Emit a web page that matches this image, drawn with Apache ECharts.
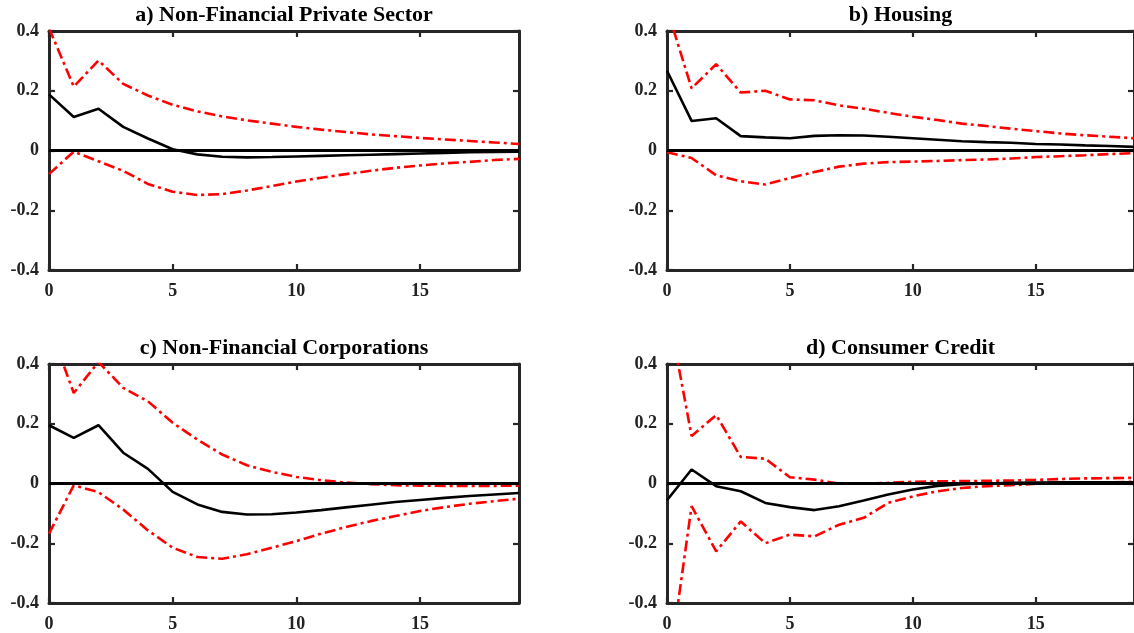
<!DOCTYPE html>
<html>
<head>
<meta charset="utf-8">
<style>html,body{margin:0;padding:0;background:#fff;}#chart{width:1134px;height:633px;}</style>
<script src="https://cdn.jsdelivr.net/npm/echarts@6/dist/echarts.min.js"></script>
</head>
<body>
<div id="chart"></div>
<script>
const horizons = [0,1,2,3,4,5,6,7,8,9,10,11,12,13,14,15,16,17,18,19];
const xTicks = [0,5,10,15];
const yTicks = [-0.4,-0.2,0,0.2,0.4];
const titles = ['a) Non-Financial Private Sector','b) Housing','c) Non-Financial Corporations','d) Consumer Credit'];

// a) Non-Financial Private Sector
const aMedian = [0.188,0.112,0.140,0.079,0.040,0.004,-0.013,-0.021,-0.023,-0.022,-0.020,-0.018,-0.016,-0.014,-0.012,-0.010,-0.008,-0.006,-0.005,-0.004];
const aUpper  = [0.410,0.214,0.301,0.223,0.184,0.153,0.131,0.114,0.101,0.090,0.079,0.070,0.062,0.054,0.048,0.042,0.037,0.032,0.027,0.022];
const aLower  = [-0.079,-0.004,-0.036,-0.068,-0.112,-0.138,-0.149,-0.146,-0.134,-0.119,-0.104,-0.091,-0.079,-0.068,-0.058,-0.050,-0.043,-0.038,-0.032,-0.028];

// b) Housing
const bMedian = [0.267,0.099,0.108,0.048,0.044,0.041,0.049,0.051,0.050,0.046,0.041,0.036,0.031,0.028,0.026,0.022,0.020,0.017,0.015,0.012];
const bUpper  = [0.475,0.208,0.289,0.194,0.200,0.171,0.168,0.151,0.140,0.126,0.113,0.102,0.090,0.082,0.073,0.065,0.057,0.051,0.046,0.041];
const bLower  = [-0.006,-0.025,-0.083,-0.103,-0.114,-0.092,-0.072,-0.054,-0.044,-0.039,-0.037,-0.035,-0.032,-0.030,-0.027,-0.022,-0.019,-0.016,-0.012,-0.009];

// c) Non-Financial Corporations
const cMedian = [0.195,0.153,0.195,0.103,0.049,-0.028,-0.070,-0.095,-0.104,-0.103,-0.097,-0.089,-0.080,-0.071,-0.062,-0.055,-0.048,-0.042,-0.037,-0.032];
const cUpper  = [0.530,0.303,0.407,0.320,0.275,0.203,0.147,0.097,0.061,0.039,0.022,0.011,0.003,-0.002,-0.006,-0.007,-0.008,-0.008,-0.008,-0.007];
const cLower  = [-0.168,-0.006,-0.029,-0.087,-0.157,-0.215,-0.246,-0.252,-0.237,-0.215,-0.193,-0.168,-0.146,-0.126,-0.109,-0.092,-0.079,-0.068,-0.059,-0.051];

// d) Consumer Credit
const dMedian = [-0.056,0.047,-0.009,-0.026,-0.065,-0.079,-0.089,-0.076,-0.057,-0.037,-0.020,-0.008,-0.002,0.000,0.002,0.003,0.004,0.004,0.004,0.004];
const dUpper  = [0.600,0.159,0.229,0.089,0.083,0.021,0.013,-0.001,-0.001,0.002,0.006,0.007,0.008,0.009,0.010,0.012,0.015,0.017,0.018,0.019];
const dLower  = [-0.665,-0.076,-0.227,-0.127,-0.200,-0.171,-0.177,-0.138,-0.115,-0.065,-0.043,-0.026,-0.015,-0.009,-0.006,-0.001,0.001,0.003,0.004,0.006];

const panels = [
  {median:aMedian, upper:aUpper, lower:aLower},
  {median:bMedian, upper:bUpper, lower:bLower},
  {median:cMedian, upper:cUpper, lower:cLower},
  {median:dMedian, upper:dUpper, lower:dLower}
];

const grids = [
  {left:49, top:31, width:470, height:239},
  {left:667, top:31, width:467, height:239},
  {left:49, top:364, width:470, height:239},
  {left:667, top:364, width:467, height:239}
];

const AX = '#262626';
const FONT = '"Liberation Serif", "DejaVu Serif", serif';

function xAxisDef(i, pos, labels) {
  return {
    type:'value', gridIndex:i, position:pos, min:0, max:19,
    splitLine:{show:false},
    axisLine:{show:true, onZero:false, lineStyle:{color:AX, width:3}},
    axisTick:{show:true, inside:true, length:6, customValues:xTicks, lineStyle:{color:AX, width:2.2}},
    axisLabel:{show:labels, customValues:xTicks, color:'#222', fontFamily:FONT, fontWeight:'bold', fontSize:18, margin:12}
  };
}
function yAxisDef(i, pos, labels) {
  return {
    type:'value', gridIndex:i, position:pos, min:-0.4, max:0.4, interval:0.2,
    splitLine:{show:false},
    axisLine:{show:true, onZero:false, lineStyle:{color:AX, width:3}},
    axisTick:{show:true, inside:true, length:6, lineStyle:{color:AX, width:2.2}},
    axisLabel:{show:labels, color:'#222', fontFamily:FONT, fontWeight:'bold', fontSize:18, margin:10, padding:[5,0,0,0]}
  };
}

const xAxes = [], yAxes = [], series = [], graphics = [];
const pair = arr => horizons.map((h,k) => [h, arr[k]]);
const DASHDOT = [11,4,3,4];
panels.forEach((p, i) => {
  xAxes.push(xAxisDef(i,'bottom',true));
  xAxes.push(xAxisDef(i,'top',false));
  yAxes.push(yAxisDef(i,'left',true));
  yAxes.push(yAxisDef(i,'right',false));
  const xi = 2*i, yi = 2*i;
  series.push({
    type:'line', xAxisIndex:xi, yAxisIndex:yi, data:pair(p.upper), symbol:'none', clip:true,
    lineStyle:{color:'#ff0000', width:2.6, type:DASHDOT}, z:3
  });
  series.push({
    type:'line', xAxisIndex:xi, yAxisIndex:yi, data:pair(p.lower), symbol:'none', clip:true,
    lineStyle:{color:'#ff0000', width:2.6, type:DASHDOT}, z:3
  });
  series.push({
    type:'line', xAxisIndex:xi, yAxisIndex:yi, data:pair(p.median), symbol:'none', clip:true,
    lineStyle:{color:'#000', width:2.6}, z:4,
    markLine:{silent:true, symbol:['none','none'], label:{show:false},
      lineStyle:{color:'#000', width:3, type:'solid'}, data:[{yAxis:0}], animation:false}
  });
  const g = grids[i];
  graphics.push({
    type:'text', x:g.left + g.width/2, y:g.top - 15.5,
    style:{text:titles[i], font:'bold 22px ' + FONT, fill:'#000', align:'center', verticalAlign:'middle'}
  });
});

const chart = echarts.init(document.getElementById('chart'), null, {renderer:'canvas'});
chart.setOption({
  animation:false,
  backgroundColor:'#fff',
  grid: grids,
  xAxis: xAxes,
  yAxis: yAxes,
  series: series,
  graphic: graphics
});
</script>
</body>
</html>
